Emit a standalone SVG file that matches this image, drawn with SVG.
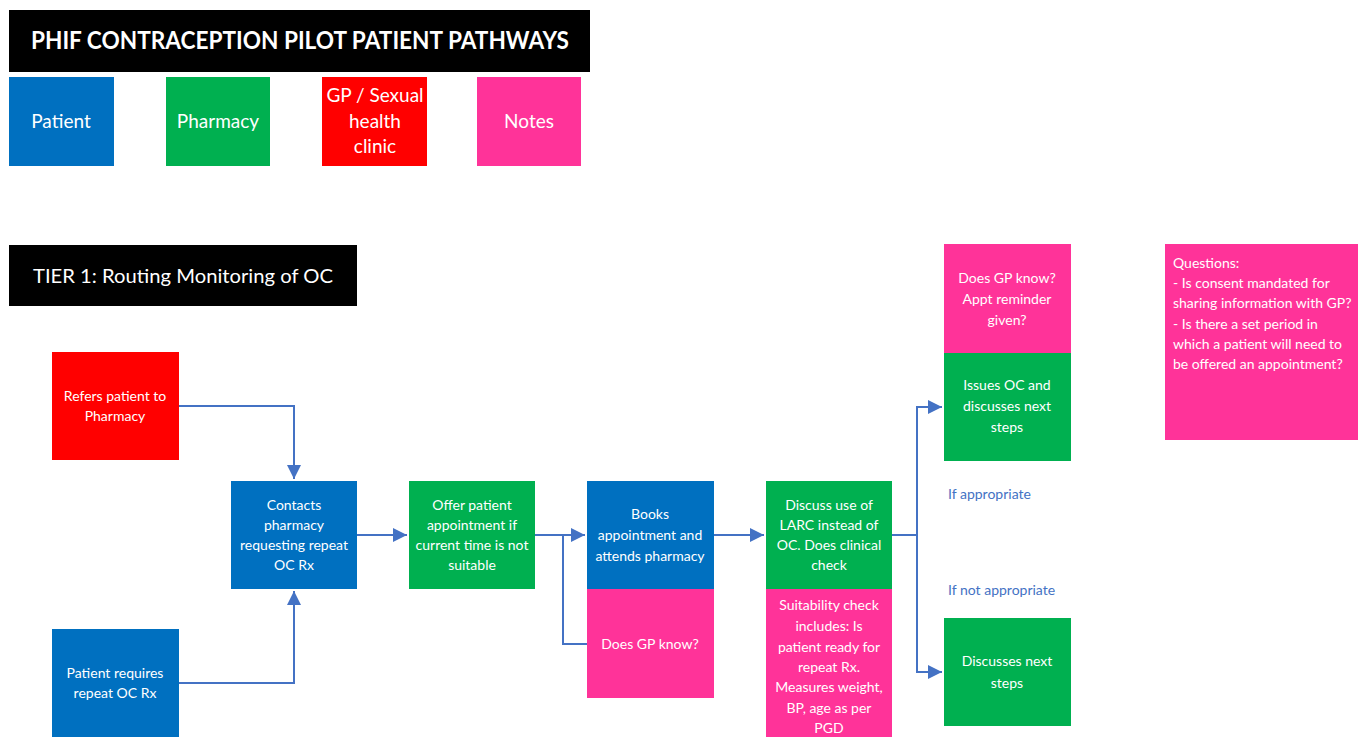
<svg xmlns="http://www.w3.org/2000/svg" width="1362" height="737" viewBox="0 0 1362 737">
<style>
.t{font-family:Lato,"Liberation Sans",sans-serif;fill:#fff;font-size:14px;text-anchor:middle}
.l{font-size:19px}
.q{text-anchor:start}
.lab{font-family:Lato,"Liberation Sans",sans-serif;fill:#4472C4;font-size:14px}
.pat{fill:#0070C0}.ph{fill:#00B050}.gp{fill:#FF0000}.nt{fill:#FF3399}
.c{fill:none;stroke:#4472C4;stroke-width:2}
</style>
<defs>
<marker id="a" viewBox="0 0 10 10" refX="10" refY="5" markerWidth="7" markerHeight="7" orient="auto" markerUnits="strokeWidth"><path d="M0,0L10,5L0,10z" fill="#4472C4"/></marker>
</defs>
<rect width="1362" height="737" fill="#fff"/>
<g id="title"><rect x="9" y="10" width="581" height="62" fill="#000"/><text x="300" y="49" class="t" style="font-size:24px;font-weight:bold" textLength="538" lengthAdjust="spacingAndGlyphs">PHIF CONTRACEPTION PILOT PATIENT PATHWAYS</text></g>
<g id="legend-patient"><rect x="9" y="77" width="105" height="89" class="pat"/><text x="61" y="128" class="t l">Patient</text></g>
<g id="legend-pharmacy"><rect x="166" y="77" width="104" height="89" class="ph"/><text x="218" y="128" class="t l">Pharmacy</text></g>
<g id="legend-gp"><rect x="322" y="77" width="105" height="89" class="gp"/><text class="t l"><tspan x="375" y="102">GP / Sexual</tspan><tspan x="375" y="128">health</tspan><tspan x="375" y="153">clinic</tspan></text></g>
<g id="legend-notes"><rect x="477" y="77" width="104" height="89" class="nt"/><text x="529" y="128" class="t l">Notes</text></g>
<g id="tier"><rect x="9" y="245" width="348" height="61" fill="#000"/><text x="33" y="283" class="t" style="font-size:20px;text-anchor:start" textLength="300" lengthAdjust="spacingAndGlyphs">TIER 1: Routing Monitoring of OC</text></g>

<g id="connectors">
<path class="c" d="M179,406H294V479" marker-end="url(#a)"/>
<path class="c" d="M179,683H294V591" marker-end="url(#a)"/>
<path class="c" d="M357,535H407" marker-end="url(#a)"/>
<path class="c" d="M535,535H585" marker-end="url(#a)"/>
<path class="c" d="M563,535V644H587"/>
<path class="c" d="M714,535H764" marker-end="url(#a)"/>
<path class="c" d="M892,535H917V407H942" marker-end="url(#a)"/>
<path class="c" d="M917,535V672H942" marker-end="url(#a)"/>
<text x="948" y="499" class="lab">If appropriate</text>
<text x="948" y="595" class="lab">If not appropriate</text>
</g>

<g id="refers"><rect x="52" y="352" width="127" height="108" class="gp"/><text class="t"><tspan x="115" y="401">Refers patient to</tspan><tspan x="115" y="421">Pharmacy</tspan></text></g>
<g id="patient-requires"><rect x="52" y="629" width="127" height="112" class="pat"/><text class="t"><tspan x="115" y="678">Patient requires</tspan><tspan x="115" y="698">repeat OC Rx</tspan></text></g>
<g id="contacts"><rect x="231" y="481" width="126" height="108" class="pat"/><text class="t"><tspan x="294" y="510">Contacts</tspan><tspan x="294" y="530">pharmacy</tspan><tspan x="294" y="550">requesting repeat</tspan><tspan x="294" y="570">OC Rx</tspan></text></g>
<g id="offer"><rect x="409" y="481" width="126" height="108" class="ph"/><text class="t"><tspan x="472" y="510">Offer patient</tspan><tspan x="472" y="530">appointment if</tspan><tspan x="472" y="550">current time is not</tspan><tspan x="472" y="570">suitable</tspan></text></g>
<g id="books"><rect x="587" y="481" width="127" height="108" class="pat"/><text class="t"><tspan x="650" y="519">Books</tspan><tspan x="650" y="540">appointment and</tspan><tspan x="650" y="561">attends pharmacy</tspan></text></g>
<g id="gp-know"><rect x="587" y="589" width="127" height="109" class="nt"/><text x="650" y="649" class="t">Does GP know?</text></g>
<g id="discuss"><rect x="766" y="481" width="126" height="108" class="ph"/><text class="t"><tspan x="829" y="510">Discuss use of</tspan><tspan x="829" y="530">LARC instead of</tspan><tspan x="829" y="550">OC. Does clinical</tspan><tspan x="829" y="570">check</tspan></text></g>
<g id="suitability"><rect x="766" y="589" width="126" height="152" class="nt"/><text class="t"><tspan x="829" y="610">Suitability check</tspan><tspan x="829" y="631">includes: Is</tspan><tspan x="829" y="652">patient ready for</tspan><tspan x="829" y="672">repeat Rx.</tspan><tspan x="829" y="692">Measures weight,</tspan><tspan x="829" y="713">BP, age as per</tspan><tspan x="829" y="733">PGD</tspan></text></g>
<g id="gp-know-appt"><rect x="944" y="244" width="127" height="109" class="nt"/><text class="t"><tspan x="1007" y="283">Does GP know?</tspan><tspan x="1007" y="304">Appt reminder</tspan><tspan x="1007" y="325">given?</tspan></text></g>
<g id="issues"><rect x="944" y="353" width="127" height="108" class="ph"/><text class="t"><tspan x="1007" y="390">Issues OC and</tspan><tspan x="1007" y="411">discusses next</tspan><tspan x="1007" y="432">steps</tspan></text></g>
<g id="discusses-next"><rect x="944" y="618" width="127" height="108" class="ph"/><text class="t"><tspan x="1007" y="666">Discusses next</tspan><tspan x="1007" y="688">steps</tspan></text></g>
<g id="questions"><rect x="1165" y="244" width="193" height="196" class="nt"/><text class="t q"><tspan x="1173" y="268">Questions:</tspan><tspan x="1173" y="288">- Is consent mandated for</tspan><tspan x="1173" y="308">sharing information with GP?</tspan><tspan x="1173" y="329">- Is there a set period in</tspan><tspan x="1173" y="349">which a patient will need to</tspan><tspan x="1173" y="369">be offered an appointment?</tspan></text></g>
</svg>
